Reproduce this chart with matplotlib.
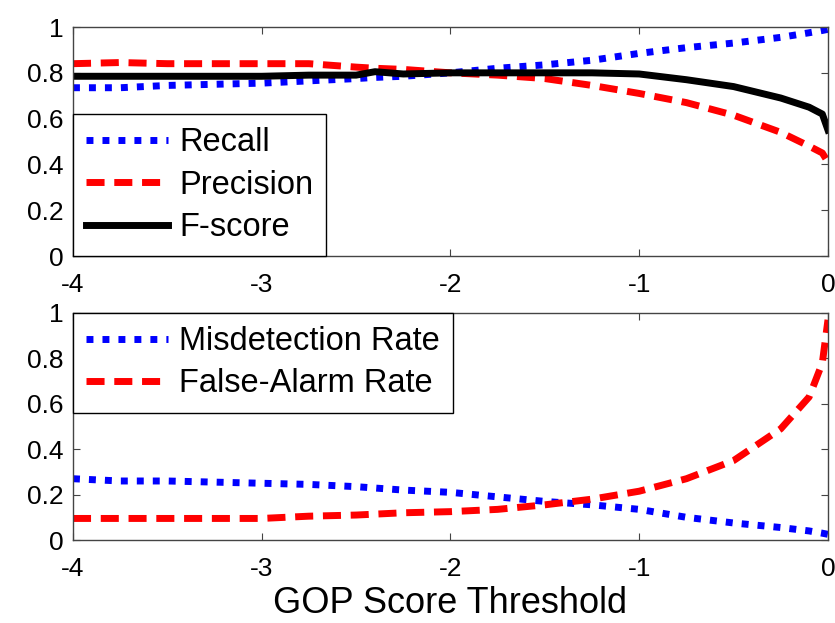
import matplotlib
matplotlib.use("Agg")
import matplotlib.pyplot as plt

plt.rcParams["font.family"] = ["Liberation Sans", "DejaVu Sans"]
plt.rcParams["axes.unicode_minus"] = False

# top panel: recall / precision / F-score vs threshold
x_top = [-4, -3.75, -3.5, -3.25, -3, -2.75, -2.5, -2.4, -2.25, -2, -1.75, -1.5,
         -1.25, -1, -0.75, -0.5, -0.25, -0.1, -0.03, 0]
recall = [0.735, 0.735, 0.745, 0.75, 0.755, 0.765, 0.775, 0.78, 0.785, 0.80, 0.82,
          0.835, 0.855, 0.885, 0.91, 0.93, 0.955, 0.975, 0.985, 0.99]
precision = [0.84, 0.845, 0.84, 0.84, 0.84, 0.84, 0.825, 0.82, 0.815, 0.80, 0.79,
             0.775, 0.745, 0.71, 0.67, 0.615, 0.54, 0.48, 0.45, 0.41]
fscore = [0.785, 0.785, 0.785, 0.785, 0.785, 0.79, 0.79, 0.805, 0.795, 0.80, 0.80,
          0.80, 0.80, 0.795, 0.77, 0.74, 0.69, 0.65, 0.62, 0.55]

# bottom panel: error rates vs threshold
x_bot = [-4, -3.75, -3.5, -3.25, -3, -2.75, -2.5, -2.25, -2, -1.75, -1.5, -1.25,
         -1, -0.75, -0.5, -0.25, -0.1, -0.03, 0]
misdetection = [0.27, 0.26, 0.26, 0.255, 0.25, 0.245, 0.235, 0.22, 0.21, 0.19, 0.17,
                0.155, 0.135, 0.10, 0.075, 0.055, 0.04, 0.03, 0.025]
false_alarm = [0.095, 0.095, 0.095, 0.095, 0.095, 0.105, 0.11, 0.12, 0.125, 0.135,
               0.155, 0.18, 0.215, 0.27, 0.35, 0.49, 0.63, 0.78, 0.97]

x_ticks = [-4, -3, -2, -1, 0]
y_ticks = [0, 0.2, 0.4, 0.6, 0.8, 1]
y_labels = ["0", "0.2", "0.4", "0.6", "0.8", "1"]

LW = 5
dot = dict(color="blue", lw=LW, linestyle=(0, (1.0, 1.3)))
dash = dict(color="red", lw=LW, linestyle=(0, (2.6, 1.4)))

fig = plt.figure(figsize=(8.35, 6.23), dpi=100)
ax1 = fig.add_axes([0.0874, 0.589, 0.9042, 0.3676])
ax2 = fig.add_axes([0.0874, 0.1332, 0.9042, 0.3644])

ax1.plot(x_top, recall, label="Recall", **dot)
ax1.plot(x_top, precision, label="Precision", **dash)
ax1.plot(x_top, fscore, label="F-score", color="black", lw=LW)

ax2.plot(x_bot, misdetection, label="Misdetection Rate", **dot)
ax2.plot(x_bot, false_alarm, label="False-Alarm Rate", **dash)

for ax in (ax1, ax2):
    ax.set_xlim(-4, 0)
    ax.set_ylim(0, 1)
    ax.set_xticks(x_ticks)
    ax.set_xticklabels([str(t) for t in x_ticks])
    ax.set_yticks(y_ticks)
    ax.set_yticklabels(y_labels)
    ax.tick_params(direction="in", top=True, right=True, length=5,
                   labelsize=19, color="#444444")
    ax.tick_params(axis="x", pad=12)
    ax.tick_params(axis="y", pad=7)
    for s in ax.spines.values():
        s.set_color("#444444")
        s.set_linewidth(1)

leg_kw = dict(fontsize=23.5, borderaxespad=0, fancybox=False, framealpha=1,
              edgecolor="black", handlelength=2.5, handletextpad=0.35,
              labelspacing=0.35, borderpad=0.4)
l1 = ax1.legend(loc="lower left", **leg_kw)
l2 = ax2.legend(loc="upper left", **leg_kw)
for l in (l1, l2):
    l.get_frame().set_linewidth(1)

ax2.set_xlabel("GOP Score Threshold", fontsize=26, labelpad=4)

fig.savefig("out.png", dpi=100, facecolor="white")
